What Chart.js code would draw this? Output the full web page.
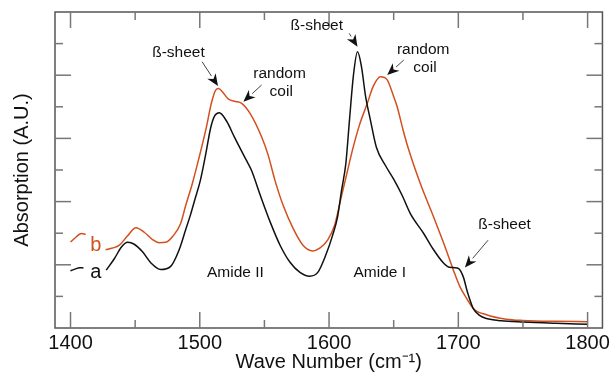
<!DOCTYPE html>
<html>
<head>
<meta charset="utf-8">
<script src="https://cdn.jsdelivr.net/npm/chart.js@4.4.0/dist/chart.umd.min.js"></script>
<style>
  html, body { margin: 0; padding: 0; background: #fff; }
</style>
</head>
<body>
<canvas id="ftir_chart" width="613" height="377"></canvas>
<script>
var xTicks = [1400, 1500, 1600, 1700, 1800];
var xMinorTicks = [1450, 1550, 1650, 1750];
var yTicks = [2, 4, 6, 8];
var yMinorTicks = [1, 3, 5, 7, 9];

// spectrum a (black)
var aWave = [1400, 1404, 1407, 1410, 1419, 1427.6, 1434, 1439.4, 1444.2, 1449.3, 1455.7, 1462.4, 1469.8, 1477.5, 1483.9,
  1489, 1492.8, 1496.1, 1500.5, 1504.6, 1508.4, 1511.5, 1515.1, 1520.7, 1526.8, 1536, 1539.9, 1546.8, 1554.5, 1562.1,
  1569.8, 1577.5, 1584.9, 1591.3, 1597.4, 1602.8, 1606.6, 1609.7, 1613, 1615.8, 1618.9, 1622, 1625, 1628.3, 1632,
  1636.6, 1643.5, 1650.4, 1656.5, 1662.9, 1673.2, 1679.5, 1688.7, 1693.3, 1697.2, 1700.3, 1703.9, 1707.1, 1711.5, 1716.4,
  1721.7, 1733.2, 1749.9, 1775.4, 1800];
var aAbs = [1.81, 1.87, 1.91, 1.90, null, 1.83, 2.20, 2.56, 2.71, 2.65, 2.41, 2.05, 1.85, 1.95, 2.46,
  3.10, 3.58, 4.05, 4.68, 5.50, 6.33, 6.71, 6.81, 6.55, 6.04, 5.31, 5.00, 4.20, 3.35, 2.62,
  2.08, 1.76, 1.64, 1.76, 2.30, 2.94, 3.52, 4.36, 5.21, 6.58, 8.01, 8.74, 8.29, 7.32, 6.58,
  5.72, 5.15, 4.68, 4.20, 3.62, 2.99, 2.56, 2.05, 1.92, 1.91, 1.88, 1.61, 1.13, 0.62, 0.40,
  0.30, 0.23, 0.19, 0.15, 0.12];

// spectrum b (orange)
var bWave = [1400, 1403.3, 1408.4, 1411.7, 1419, 1427.1, 1432.5, 1437.8, 1444, 1450.6, 1457, 1463.4, 1468.5, 1473.7, 1479.3,
  1485.2, 1489.2, 1494.1, 1499.2, 1504.6, 1509.2, 1512.3, 1514.6, 1517.6, 1522.2, 1527.6, 1532.4, 1538.9, 1547.8, 1552.9,
  1558.1, 1564.4, 1572.1, 1579.8, 1587.4, 1592.8, 1598.9, 1604.3, 1608.9, 1613.5, 1618.1, 1623.5, 1629.6, 1634.3, 1639.9,
  1645, 1649.6, 1652.7, 1657.3, 1661.7, 1670.6, 1680.8, 1689.7, 1696.2, 1701.3, 1706.4, 1711.5, 1721.7, 1737.1, 1749.9,
  1775.4, 1800];
var bAbs = [2.72, 2.84, 2.99, 2.96, null, 2.48, 2.53, 2.62, 2.91, 3.17, 3.03, 2.80, 2.70, 2.71, 2.91,
  3.31, 3.89, 4.55, 5.35, 6.26, 7.15, 7.53, 7.58, 7.47, 7.24, 7.17, 7.11, 6.79, 6.05, 5.47,
  4.68, 3.89, 3.16, 2.62, 2.44, 2.53, 2.78, 3.25, 4.05, 4.84, 5.63, 6.42, 7.11, 7.66, 7.95,
  7.85, 7.37, 7.00, 6.26, 5.63, 4.57, 3.52, 2.57, 1.83, 1.30, 0.94, 0.62, 0.42, 0.28, 0.24,
  0.21, 0.20];

var black = "#111111";
var orange = "#d2501e";
var fontFamily = "'Liberation Sans', Arial, Helvetica, sans-serif";

// labels placed in data coordinates (baseline)
var notes = [
  { text: "ß-sheet", x: 1483.5, y: 8.575 },
  { text: "random", x: 1561.7, y: 7.925 },
  { text: "coil", x: 1563.0, y: 7.339 },
  { text: "ß-sheet", x: 1590.5, y: 9.446 },
  { text: "random", x: 1672.8, y: 8.686 },
  { text: "coil", x: 1674.2, y: 8.099 },
  { text: "ß-sheet", x: 1735.8, y: 3.126 },
  { text: "Amide II", x: 1527.6, y: 1.615 },
  { text: "Amide I", x: 1639.2, y: 1.615 },
  { text: "a", x: 1419.6, y: 1.596, big: true, color: black },
  { text: "b", x: 1419.6, y: 2.439, big: true, color: orange }
];
var arrows = [
  { x1: 1501.8, y1: 8.426, x2: 1514.1, y2: 7.655 },
  { x1: 1547.8, y1: 7.688, x2: 1533.7, y2: 7.159 },
  { x1: 1615.6, y1: 9.325, x2: 1622.0, y2: 8.901 },
  { x1: 1657.8, y1: 8.480, x2: 1645.0, y2: 8.005 },
  { x1: 1723.0, y1: 2.778, x2: 1705.1, y2: 1.913 }
];

function toPoints(xs, ys) {
  return xs.map(function(x, i) { return { x: x, y: ys[i] }; });
}

var framePlugin = {
  id: 'frame',
  afterDraw: function(chart) {
    var ctx = chart.ctx, area = chart.chartArea;
    var xs = chart.scales.x, ys = chart.scales.y;
    ctx.save();
    ctx.strokeStyle = '#555';
    ctx.lineWidth = 1.5;
    ctx.strokeRect(area.left, area.top, area.right - area.left, area.bottom - area.top);

    ctx.strokeStyle = '#777';
    function line(x1, y1, x2, y2) {
      ctx.beginPath(); ctx.moveTo(x1, y1); ctx.lineTo(x2, y2); ctx.stroke();
    }
    function xTick(v, len) {
      var p = xs.getPixelForValue(v);
      line(p, area.bottom, p, area.bottom - len);
      line(p, area.top, p, area.top + len);
    }
    function yTick(v, len) {
      var p = ys.getPixelForValue(v);
      line(area.left, p, area.left + len, p);
      line(area.right, p, area.right - len, p);
    }
    xTicks.forEach(function(v) { xTick(v, 16); });
    xMinorTicks.forEach(function(v) { xTick(v, 8); });
    yTicks.forEach(function(v) { yTick(v, 16); });
    yMinorTicks.forEach(function(v) { yTick(v, 8); });

    // text labels
    ctx.textAlign = 'center';
    ctx.textBaseline = 'alphabetic';
    notes.forEach(function(n) {
      ctx.font = (n.big ? '20px ' : '15.5px ') + fontFamily;
      ctx.fillStyle = n.color || black;
      ctx.fillText(n.text, xs.getPixelForValue(n.x), ys.getPixelForValue(n.y));
    });

    // arrows
    ctx.strokeStyle = '#444';
    ctx.fillStyle = black;
    ctx.lineWidth = 1;
    arrows.forEach(function(a) {
      var x1 = xs.getPixelForValue(a.x1), y1 = ys.getPixelForValue(a.y1);
      var x2 = xs.getPixelForValue(a.x2), y2 = ys.getPixelForValue(a.y2);
      var ang = Math.atan2(y2 - y1, x2 - x1), len = 12, w = 5;
      var c = Math.cos(ang), s = Math.sin(ang);
      line(x1, y1, x2 - len * c, y2 - len * s);
      ctx.beginPath();
      ctx.moveTo(x2, y2);
      ctx.lineTo(x2 - len * c + w * s, y2 - len * s - w * c);
      ctx.lineTo(x2 - len * 0.7 * c, y2 - len * 0.7 * s);
      ctx.lineTo(x2 - len * c - w * s, y2 - len * s + w * c);
      ctx.closePath();
      ctx.fill();
    });
    ctx.restore();
  }
};

new Chart("ftir_chart", {
  type: "line",
  data: {
    datasets: [{
      label: "a",
      data: toPoints(aWave, aAbs),
      borderColor: black,
      borderWidth: 1.5,
      pointRadius: 0,
      cubicInterpolationMode: 'monotone',
      spanGaps: false
    }, {
      label: "b",
      data: toPoints(bWave, bAbs),
      borderColor: orange,
      borderWidth: 1.5,
      pointRadius: 0,
      cubicInterpolationMode: 'monotone',
      spanGaps: false
    }]
  },
  options: {
    responsive: false,
    animation: false,
    layout: { padding: { top: 12, right: 6, left: 0, bottom: 0 } },
    plugins: {
      legend: { display: false },
      tooltip: { enabled: false }
    },
    scales: {
      x: {
        type: 'linear',
        min: 1388,
        max: 1811.5,
        afterBuildTicks: function(s) { s.ticks = xTicks.map(function(v) { return { value: v }; }); },
        afterFit: function(s) { s.height = 49; },
        grid: { display: false, drawTicks: false },
        border: { display: false },
        ticks: {
          padding: 3,
          color: black,
          maxRotation: 0,
          autoSkip: false,
          font: { size: 20, family: fontFamily },
          callback: function(v) { return String(v); }
        },
        title: {
          display: true,
          text: 'Wave Number (cm\u207B\u00B9)',
          color: black,
          padding: { top: 0, bottom: 3 },
          font: { size: 20, family: fontFamily }
        }
      },
      y: {
        min: 0,
        max: 10,
        afterFit: function(s) { s.width = 55; },
        grid: { display: false },
        border: { display: false },
        ticks: { display: false },
        title: {
          display: true,
          text: 'Absorption (A.U.)',
          color: black,
          padding: { top: 10.5, bottom: 0 },
          font: { size: 20, family: fontFamily }
        }
      }
    }
  },
  plugins: [framePlugin]
});
</script>
</body>
</html>
